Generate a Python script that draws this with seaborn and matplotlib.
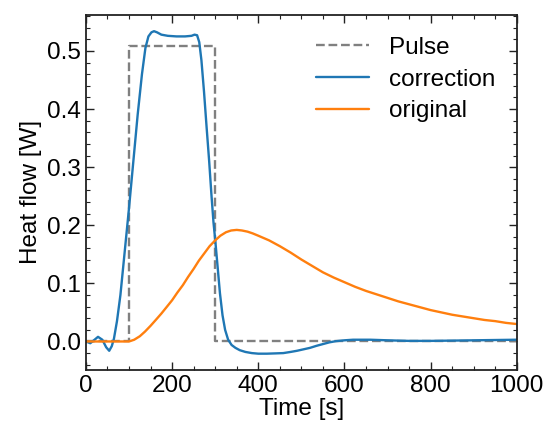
import numpy as np
import pandas as pd
import matplotlib
matplotlib.use('Agg')
import matplotlib.pyplot as plt
import seaborn as sns
from matplotlib.ticker import MultipleLocator

# pulse
pulse_t = [0, 100, 100, 300, 300, 1000]
pulse_v = [0.0, 0.0, 0.508, 0.508, 0.0, 0.0]

# corrected heat flow
corr_t = [0, 10, 20, 28, 38, 47, 54, 60, 65, 72, 80, 90, 100, 110, 120, 130, 138, 145,
          152, 158, 165, 175, 190, 210, 230, 245, 252, 258, 263, 268, 274, 280, 286, 291,
          296, 300, 306, 311, 317, 323, 330, 338, 347, 357, 370, 385, 400, 420, 440, 458,
          475, 490, 505, 520, 535, 550, 565, 580, 600, 620, 660, 700, 750, 800, 900, 1000]
corr_v = [0.0, -0.003, 0.003, 0.008, 0.003, -0.010, -0.016, -0.008, 0.005, 0.035, 0.08,
          0.155, 0.23, 0.31, 0.39, 0.46, 0.505, 0.525, 0.532, 0.534, 0.532, 0.528, 0.526,
          0.525, 0.525, 0.526, 0.528, 0.527, 0.515, 0.484, 0.43, 0.369, 0.31, 0.255, 0.205,
          0.175, 0.125, 0.083, 0.045, 0.02, 0.003, -0.006, -0.011, -0.015, -0.018, -0.020,
          -0.021, -0.021, -0.0205, -0.020, -0.018, -0.016, -0.0135, -0.011, -0.0075,
          -0.0045, -0.0015, 0.0005, 0.002, 0.003, 0.003, 0.002, 0.001, 0.001, 0.002, 0.003]

# original measured heat flow
orig_t = [0, 100, 112, 125, 137, 150, 162, 175, 187, 200, 212, 225, 237, 250, 262, 275,
          287, 300, 312, 325, 337, 350, 362, 375, 387, 400, 425, 450, 475, 500, 525, 550,
          575, 600, 625, 650, 675, 700, 725, 750, 775, 800, 825, 850, 875, 900, 925, 950,
          975, 1000]
orig_v = [0.0, 0.0, 0.003, 0.009, 0.017, 0.027, 0.037, 0.048, 0.059, 0.071, 0.084, 0.097,
          0.111, 0.125, 0.139, 0.152, 0.164, 0.174, 0.182, 0.188, 0.191, 0.192, 0.191,
          0.189, 0.186, 0.182, 0.174, 0.164, 0.153, 0.141, 0.130, 0.119, 0.110, 0.102,
          0.094, 0.087, 0.081, 0.075, 0.069, 0.064, 0.059, 0.054, 0.050, 0.046, 0.043,
          0.040, 0.037, 0.035, 0.032, 0.030]

sns.set_style('ticks')
plt.rcParams['font.family'] = ['Liberation Sans', 'DejaVu Sans']
plt.rcParams['axes.linewidth'] = 1.3
plt.rcParams['axes.edgecolor'] = '#222222'
plt.rcParams['text.color'] = 'black'
plt.rcParams['axes.labelcolor'] = 'black'
plt.rcParams['xtick.color'] = 'black'
plt.rcParams['ytick.color'] = 'black'

fs = 17.5
fig, ax = plt.subplots(figsize=(5.44, 4.30), dpi=100)
fig.subplots_adjust(left=0.158, right=0.950, top=0.965, bottom=0.140)

sns.lineplot(x=pulse_t, y=pulse_v, ax=ax, color='grey', linestyle='--', lw=1.7,
             label='Pulse', sort=False, estimator=None)
sns.lineplot(x=corr_t, y=corr_v, ax=ax, color='#1f77b4', lw=1.7, label='correction',
             sort=False, estimator=None)
sns.lineplot(x=orig_t, y=orig_v, ax=ax, color='#ff7f0e', lw=1.7, label='original',
             sort=False, estimator=None)

ax.set_xlim(0, 1000)
ax.xaxis.set_major_locator(MultipleLocator(200))
ax.xaxis.set_minor_locator(MultipleLocator(50))
ax.yaxis.set_major_locator(MultipleLocator(0.1))
ax.yaxis.set_minor_locator(MultipleLocator(0.02))
ax.tick_params(which='both', direction='in', top=True, right=True, labelsize=fs,
               color='#222222', labelcolor='black')
ax.tick_params(which='major', length=5.5, width=1)
ax.tick_params(which='minor', length=3, width=0.8)

ax.set_xlabel('Time [s]', fontsize=fs, labelpad=1)
ax.set_ylabel('Heat flow [W]', fontsize=fs, labelpad=4)

ax.legend(loc='upper right', frameon=False, fontsize=fs, handlelength=2.2,
          labelspacing=0.4, borderaxespad=0.5)

fig.savefig('out.png', dpi=100)
